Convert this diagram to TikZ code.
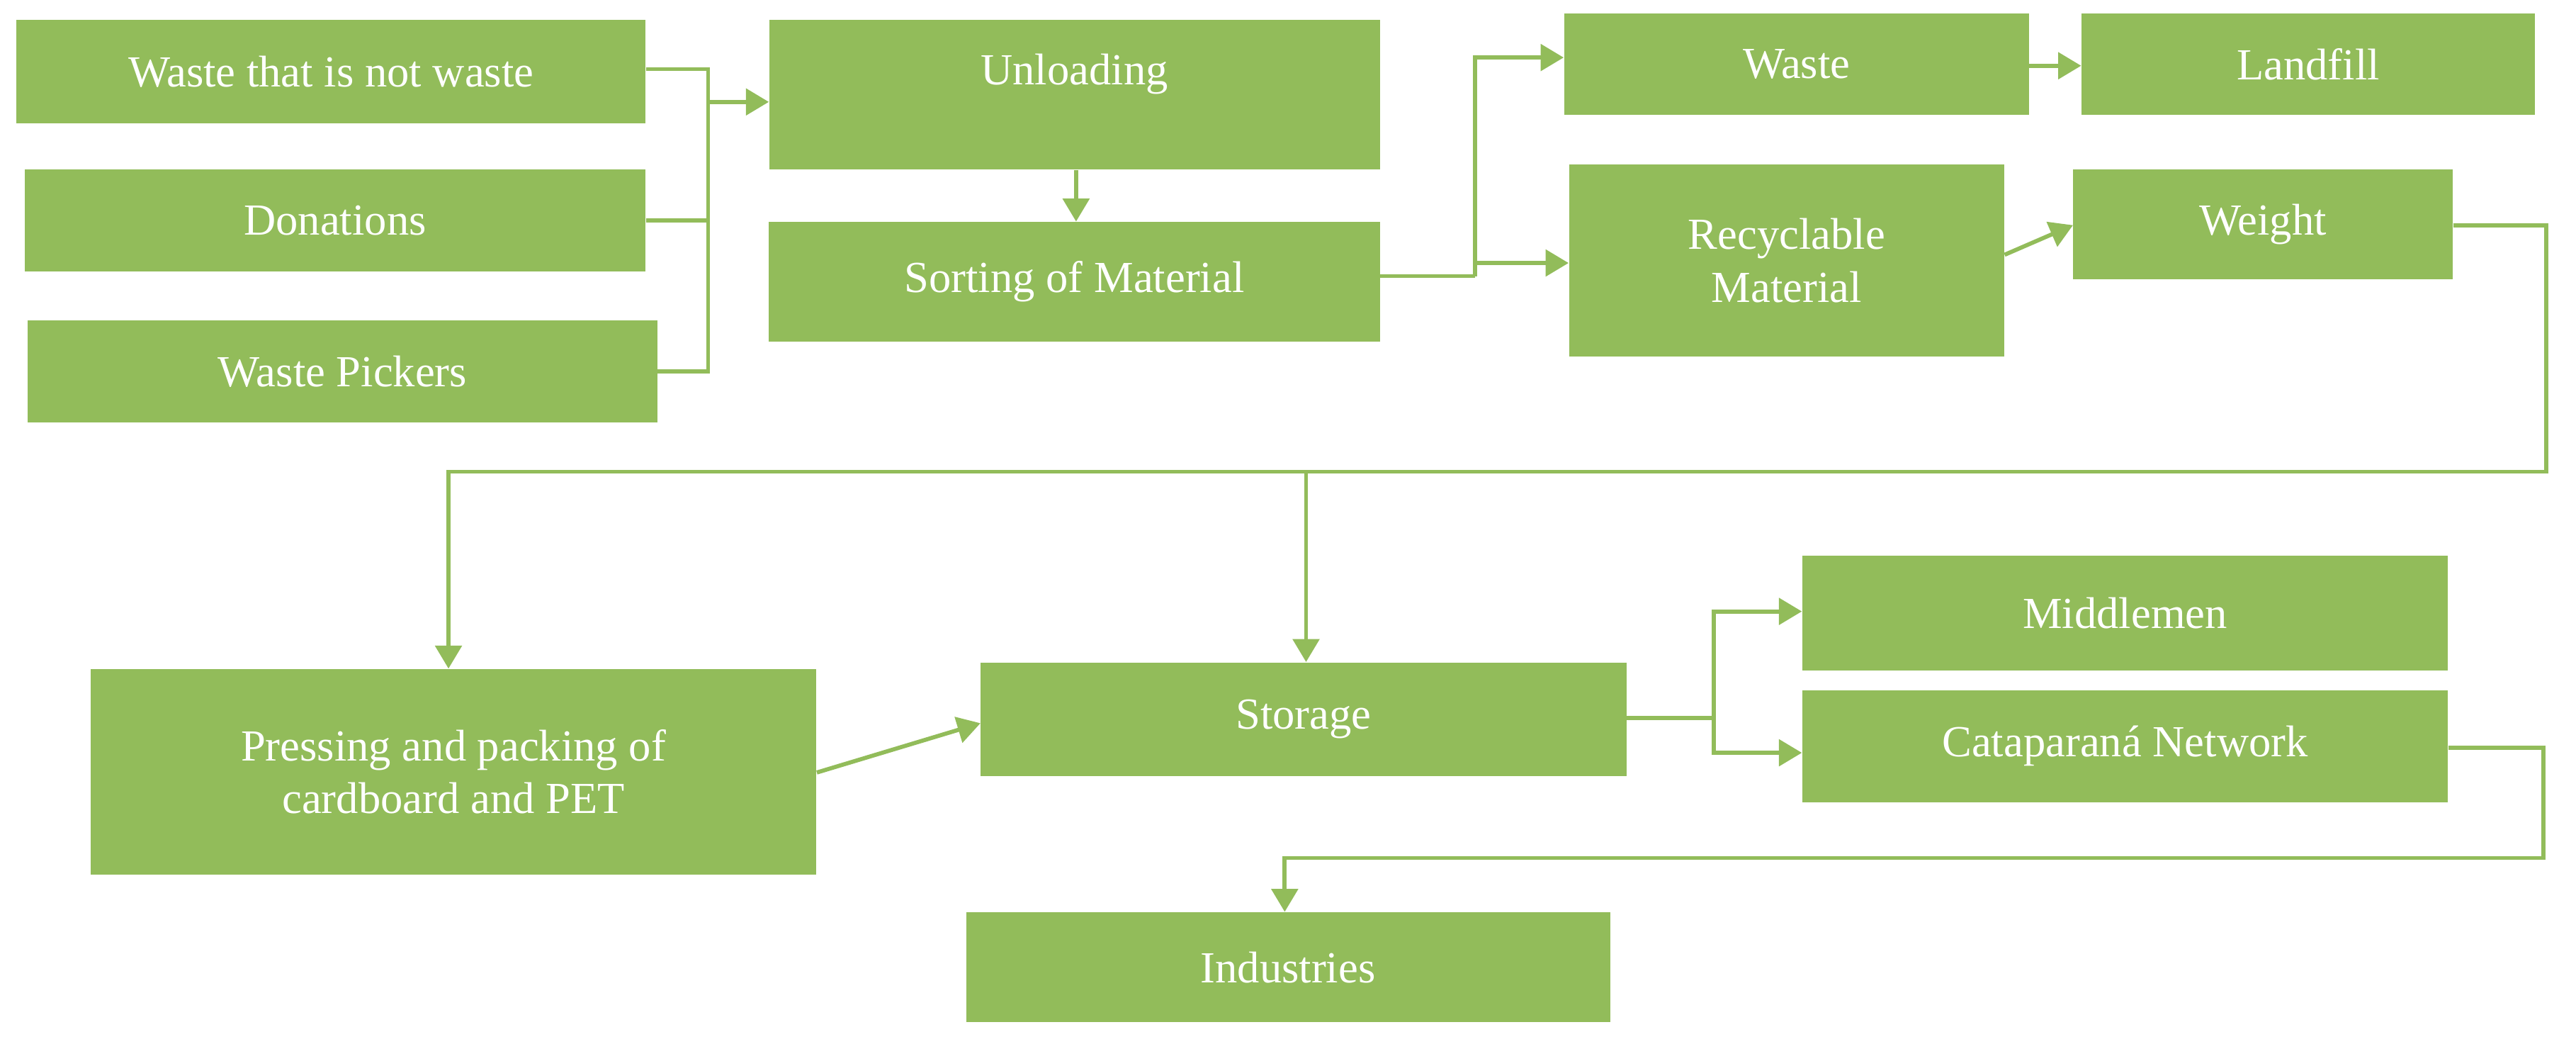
\documentclass[tikz,border=0pt]{standalone}
\usepackage{fontspec}
\setmainfont{Liberation Serif}
\usetikzlibrary{arrows.meta}
\definecolor{g}{HTML}{92BC5A}
\begin{document}
\begin{tikzpicture}[x=1pt,y=-1pt,
  box/.style={fill=g,draw=none,text=white,font=\fontsize{27}{32}\selectfont,align=center,inner sep=0pt},
  ln/.style={draw=g,line width=2.5pt},
  ar/.style={ln,-{Triangle[width=16pt,length=14pt]}}]
\useasboundingbox (0,0) rectangle (1568,638);
\newcommand\bx[6]{\node[box,minimum width={#4-#2},minimum height={#5-#3}] (#1) at ({(#2+#4)/2},{(#3+#5)/2}) {#6};}
\bx{w1}{10}{12}{393}{75}{Waste that is not waste}
\bx{don}{15}{103}{393}{165}{Donations}
\bx{wp}{17}{195}{400}{257}{Waste Pickers}
\node[box,minimum width=372,minimum height=91,anchor=north west] (unl) at (468,12) {};
\node[box] at (654,45) {Unloading};
\bx{sort}{468}{135}{840}{208}{Sorting of Material}
\bx{waste}{952}{8}{1235}{70}{Waste}
\bx{land}{1267}{8}{1543}{70}{Landfill}
\bx{rec}{955}{100}{1220}{217}{Recyclable\\Material}
\bx{wei}{1262}{103}{1493}{170}{Weight}
\bx{press}{55}{407}{497}{532}{Pressing and packing of\\cardboard and PET}
\bx{stor}{597}{403}{990}{472}{Storage}
\bx{mid}{1097}{338}{1490}{408}{Middlemen}
\bx{cat}{1097}{420}{1490}{488}{Cataparaná Network}
\bx{ind}{588}{555}{980}{622}{Industries}
\coordinate (j1) at (431,62);
\draw[ln] (w1.east|-0,42) -| (j1);
\draw[ln] (don.east) -| (j1);
\draw[ln] (wp.east) -| (j1);
\draw[ar] (j1) -- (unl.west|-j1);
\draw[ar] (unl.south-|655,0) -- (sort.north-|655,0);
\coordinate (j2) at (898,168);
\draw[ln] (sort.east|-j2) -- (j2);
\draw[ar] (j2) |- (waste.west|-0,35);
\draw[ar] (j2|-0,160) -- (rec.west|-0,160);
\draw[ar] (waste.east|-0,40) -- (land.west|-0,40);
\draw[ar] (rec.east|-0,155) -- (wei.west|-0,137);
\coordinate (j3) at (795,287);
\draw[ar] (wei.east|-0,137) -- (1550,137) -- (1550,287) -- (273,287) -- (press.north-|273,0);
\draw[ar] (j3) -- (stor.north-|j3);
\draw[ar] (press.east|-0,470) -- (stor.west|-0,440);
\coordinate (j4) at (1043,437);
\draw[ln] (stor.east|-j4) -- (j4);
\draw[ar] (j4) |- (mid.west|-0,372);
\draw[ar] (j4) |- (cat.west|-0,458);
\draw[ar] (cat.east|-0,455) -- (1548,455) -- (1548,522) -- (782,522) -- (ind.north-|782,0);
\end{tikzpicture}
\end{document}
